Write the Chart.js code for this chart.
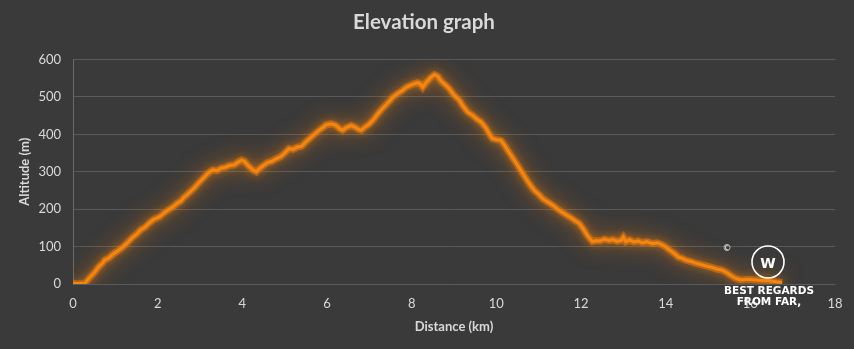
<!DOCTYPE html>
<html>
<head>
<meta charset="utf-8">
<script src="https://cdn.jsdelivr.net/npm/chart.js@4"></script>
<style>
html,body{margin:0;padding:0;background:#3a3a3a;}
#wrap{width:854px;height:349px;position:relative;}
</style>
</head>
<body>
<div id="wrap"><canvas id="c" width="854" height="349"></canvas></div>
<script>
const distanceKm = [0,0.1,0.2,0.28,0.4,0.5,0.6,0.7,0.75,0.85,0.95,1.05,1.18,1.3,1.4,1.5,1.6,1.7,1.8,1.9,1.97,2.05,2.15,2.25,2.35,2.45,2.55,2.62,2.68,2.75,2.85,2.95,3.05,3.15,3.23,3.3,3.4,3.5,3.6,3.7,3.8,3.9,3.98,4.05,4.15,4.25,4.33,4.4,4.5,4.6,4.7,4.8,4.9,5.0,5.1,5.2,5.3,5.4,5.5,5.6,5.7,5.8,5.9,5.98,6.1,6.2,6.3,6.37,6.45,6.57,6.65,6.75,6.81,6.9,7.0,7.1,7.2,7.3,7.4,7.5,7.55,7.65,7.75,7.87,7.95,8.05,8.14,8.2,8.26,8.35,8.45,8.54,8.62,8.7,8.8,8.89,9.0,9.13,9.2,9.32,9.45,9.55,9.64,9.75,9.85,9.91,10.0,10.11,10.2,10.3,10.4,10.5,10.6,10.7,10.8,10.9,11.0,11.1,11.2,11.33,11.45,11.55,11.65,11.75,11.85,11.96,12.05,12.15,12.27,12.35,12.45,12.55,12.67,12.75,12.85,12.95,13.0,13.06,13.15,13.25,13.35,13.45,13.55,13.69,13.8,13.9,14.0,14.1,14.2,14.3,14.4,14.47,14.6,14.7,14.87,15.0,15.1,15.2,15.34,15.45,15.55,15.65,15.77,15.9,16.0,16.2,16.44,16.6,16.75];
const altitudeM = [2,1,1,2,18,30,45,56,64,70,80,88,99,112,124,133,145,152,163,172,176,180,190,198,205,215,222,232,237,245,255,268,280,292,300,305,303,310,312,317,318,326,331,328,315,305,300,308,317,325,328,335,340,350,362,360,366,368,380,390,400,410,418,426,428,425,415,411,418,424,420,413,411,420,428,440,455,468,480,492,499,508,515,526,530,535,538,535,526,540,552,560,555,542,532,522,505,491,478,460,450,440,433,418,398,389,386,384,370,352,335,318,300,282,265,250,240,228,220,211,200,192,185,178,170,162,148,130,113,116,115,120,116,119,114,117,125,113,118,112,115,110,113,108,110,106,99,90,82,72,68,64,60,56,51,47,44,40,37,30,22,15,11,12,12,10,9,6,4];
const xTicks = [0,2,4,6,8,10,12,14,16,18];
const yTicks = [0,100,200,300,400,500,600];
const titleText = 'Elevation graph';
const xTitle = 'Distance (km)';
const yTitle = 'Altitude (m)';

const points = distanceKm.map((d, i) => ({x: d, y: altitudeM[i]}));
const FONT = 'Lato, "Open Sans", sans-serif';
const TXT = '#d9d9d9';

const glowPlugin = {
  id: 'glow',
  beforeDatasetDraw(chart, args) {
    const ctx = chart.ctx;
    ctx.save();
    if (args.index === 0) {
      ctx.shadowColor = 'rgba(255,125,0,1)';
      ctx.shadowBlur = 22;
    } else {
      ctx.shadowColor = 'rgba(255,150,20,0.9)';
      ctx.shadowBlur = 8;
    }
  },
  afterDatasetDraw(chart) {
    chart.ctx.restore();
  }
};

const bgPlugin = {
  id: 'bg',
  beforeDraw(chart) {
    const ctx = chart.ctx;
    ctx.save();
    ctx.fillStyle = '#3a3a3a';
    ctx.fillRect(0, 0, chart.width, chart.height);
    ctx.restore();
  }
};

const markPlugin = {
  id: 'mark',
  afterDraw(chart) {
    const ctx = chart.ctx;
    ctx.save();
    ctx.fillStyle = '#ffffff';
    ctx.strokeStyle = '#ffffff';
    ctx.textAlign = 'center';
    ctx.textBaseline = 'middle';
    ctx.font = '9px "DejaVu Sans", sans-serif';
    ctx.fillText('©', 727, 249);
    ctx.lineWidth = 1.6;
    ctx.beginPath();
    ctx.arc(768, 262, 16, 0, Math.PI * 2);
    ctx.stroke();
    ctx.font = 'bold 14px "DejaVu Sans", sans-serif';
    ctx.fillText('W', 768, 264);
    ctx.font = 'bold 10.5px "DejaVu Sans", sans-serif';
    ctx.fillText('BEST REGARDS', 769, 291);
    ctx.fillText('FROM FAR,', 769, 302);
    ctx.restore();
  }
};

new Chart(document.getElementById('c'), {
  type: 'line',
  data: {
    datasets: [
      {
        data: points,
        borderColor: 'rgba(235,120,10,0.55)',
        borderWidth: 7,
        pointRadius: 0,
        tension: 0,
        fill: false
      },
      {
        data: points,
        borderColor: '#ff9a1c',
        borderWidth: 3.2,
        pointRadius: 0,
        tension: 0,
        fill: false
      }
    ]
  },
  options: {
    responsive: false,
    animation: false,
    devicePixelRatio: 1,
    layout: { padding: { left: 13, right: 19, top: 0, bottom: 10 } },
    plugins: {
      legend: { display: false },
      tooltip: { enabled: false },
      title: {
        display: true,
        text: titleText,
        color: TXT,
        font: { family: FONT, size: 20.5, weight: 'bold' },
        padding: { top: 10, bottom: 25 }
      }
    },
    scales: {
      x: {
        type: 'linear',
        min: 0, max: 18,
        afterBuildTicks(s) { s.ticks = xTicks.map(v => ({value: v})); },
        afterFit(s) { s.height = 55; },
        grid: { display: false },
        border: { display: false },
        ticks: { color: TXT, font: { family: FONT, size: 13 }, padding: 4, maxRotation: 0 },
        title: { display: true, text: xTitle, color: TXT, font: { family: FONT, size: 13, weight: 'bold' }, padding: { top: 4 } }
      },
      y: {
        min: 0, max: 600,
        afterBuildTicks(s) { s.ticks = yTicks.map(v => ({value: v})); },
        afterFit(s) { s.width = 60; },
        grid: { color: '#5a5a5a', lineWidth: 1, drawTicks: false },
        border: { display: true, color: '#6a6a6a' },
        ticks: { color: TXT, font: { family: FONT, size: 13 }, padding: 12 },
        title: { display: true, text: yTitle, color: TXT, font: { family: FONT, size: 13, weight: 'bold' }, padding: { bottom: 6 } }
      }
    }
  },
  plugins: [bgPlugin, glowPlugin, markPlugin]
});
</script>
</body>
</html>
